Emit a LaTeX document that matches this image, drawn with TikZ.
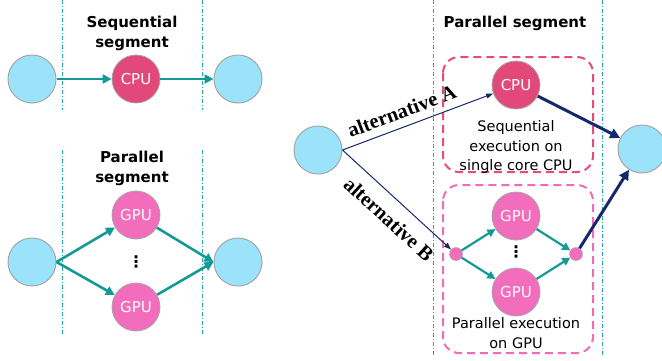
\documentclass[tikz,border=0pt]{standalone}
\usepackage{fontspec}
\setmainfont{DejaVu Sans}
\newfontfamily\labelserif{Liberation Serif}
\usetikzlibrary{arrows.meta}

\definecolor{skyfill}{HTML}{9BE3FB}
\definecolor{ringgray}{HTML}{A6A6A6}
\definecolor{cpured}{HTML}{E2497A}
\definecolor{gpupink}{HTML}{F26DBB}
\definecolor{tealc}{HTML}{149A96}
\definecolor{dashteal}{HTML}{23A8A8}
\definecolor{navyc}{HTML}{13296B}
\definecolor{boxred}{HTML}{E64B7B}
\definecolor{boxpink}{HTML}{F06CB8}

\tikzset{
  endnode/.style={circle, minimum size=48pt, inner sep=0pt, fill=skyfill, draw=ringgray, line width=1pt},
  cpunode/.style={circle, minimum size=48pt, inner sep=0pt, fill=cpured, draw=ringgray, line width=0.8pt,
    text=white, font=\fontsize{15}{16}\selectfont},
  gpunode/.style={circle, minimum size=48pt, inner sep=0pt, fill=gpupink, draw=ringgray, line width=0.8pt,
    text=white, font=\fontsize{15}{16}\selectfont},
  joint/.style={circle, minimum size=13pt, inner sep=0pt, fill=gpupink, draw=ringgray, line width=0.5pt},
  flow/.style={draw=tealc, line width=2.6pt, -{Triangle[length=9pt,width=9pt]}},
  innerflow/.style={draw=tealc, line width=2.2pt, -{Triangle[length=8pt,width=8pt]}},
  choice/.style={draw=navyc, line width=1pt, -{Triangle[length=7pt,width=5pt]}},
  merge/.style={draw=navyc, line width=3pt, -{Triangle[length=10pt,width=10pt]}},
  border/.style={draw=dashteal, line width=1pt, dash pattern=on 4pt off 2pt on 1pt off 2pt},
  title/.style={font=\bfseries\fontsize{15}{20}\selectfont, align=center},
  caption/.style={font=\fontsize{14.5}{19.5}\selectfont, align=center},
  altlabel/.style={font=\labelserif\bfseries\fontsize{20.5}{22}\selectfont, sloped, inner sep=0pt},
  dots/.style={font=\bfseries\fontsize{16}{16}\selectfont},
  group/.style={line width=2pt, dash pattern=on 8pt off 5pt, rounded corners=16pt}
}

\begin{document}
\begin{tikzpicture}[x=1pt, y=-1pt]
\useasboundingbox (0,0) rectangle (662,360);

% segment borders
\draw[border] (62,0) -- (62,110);
\draw[border] (202,0) -- (202,110);
\draw[border] (62,150) -- (62,335);
\draw[border] (202,150) -- (202,335);
\draw[border] (433,0) -- (433,355);
\draw[border] (602,0) -- (602,355);

% sequential segment
\node[title] (t1) at (132,33) {Sequential\\segment};
\node[endnode] (sa) at (32,79) {};
\node[cpunode] (sc) at (136,79) {CPU};
\node[endnode] (sb) at (238,79) {};
\draw[flow] (sa) -- (sc);
\draw[flow] (sc) -- (sb);

% parallel segment
\node[title] (t2) at (132,168) {Parallel\\segment};
\node[endnode] (pa) at (32,262) {};
\node[gpunode] (pg1) at (136,215) {GPU};
\node[gpunode] (pg2) at (136,307) {GPU};
\node[dots] (pd) at (136,262) {⋮};
\node[endnode] (pb) at (238,262) {};
\draw[flow] (pa.east) -- (pg1);
\draw[flow] (pa.east) -- (pg2);
\draw[flow] (pg1) -- (pb.west);
\draw[flow] (pg2) -- (pb.west);

% alternatives for a parallel segment
\node[title] (t3) at (515,23) {Parallel segment};
\draw[group, draw=boxred] (443,57) rectangle (593,172);
\draw[group, draw=boxpink] (443,185) rectangle (593,353);

\node[endnode] (ra) at (318,150) {};
\node[endnode] (rb) at (642,149) {};
\node[cpunode] (rc) at (516,85) {CPU};
\node[caption] (c1) at (516,147) {Sequential\\execution on\\single core CPU};

\node[joint] (j1) at (456,254) {};
\node[joint] (j2) at (576,254) {};
\node[gpunode] (rg1) at (516,216) {GPU};
\node[gpunode] (rg2) at (516,292) {GPU};
\node[dots] (rd) at (516,252) {⋮};
\node[caption] (c2) at (516,333) {Parallel execution\\on GPU};

\draw[choice] (ra.east) -- node[altlabel, pos=0.43, above=8pt] {alternative A} (rc);
\draw[choice] (ra.east) -- node[altlabel, pos=0.55, below=12pt] {alternative B} (j1);

\draw[innerflow] (j1) -- (rg1);
\draw[innerflow] (j1) -- (rg2);
\draw[innerflow] (rg1) -- (j2);
\draw[innerflow] (rg2) -- (j2);

\draw[merge] (rc) -- (rb);
\draw[merge] (j2) -- (rb);
\end{tikzpicture}
\end{document}
